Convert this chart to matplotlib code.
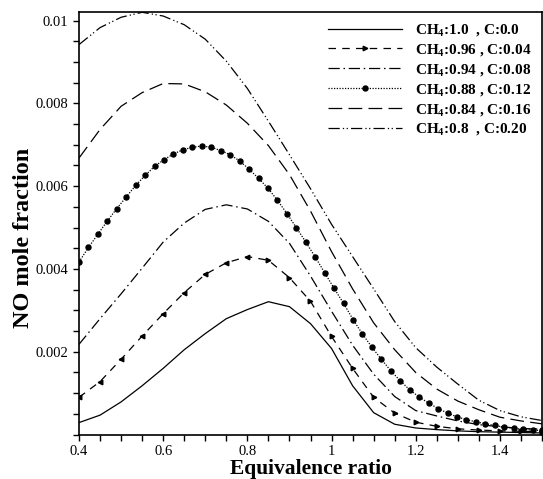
import numpy as np
import matplotlib
matplotlib.use("Agg")
import matplotlib.pyplot as plt
from matplotlib.ticker import MultipleLocator, FuncFormatter

plt.rcParams['font.family'] = ['Liberation Serif', 'DejaVu Serif']
plt.rcParams['mathtext.fontset'] = 'custom'
plt.rcParams['mathtext.rm'] = 'Liberation Serif:bold'
plt.rcParams['mathtext.bf'] = 'Liberation Serif:bold'
plt.rcParams['mathtext.default'] = 'rm'

# ---- data ----
phi = [0.40, 0.45, 0.50, 0.55, 0.60, 0.65, 0.70, 0.75, 0.80, 0.85, 0.90, 0.95,
       1.00, 1.05, 1.10, 1.15, 1.20, 1.25, 1.30, 1.35, 1.40, 1.45, 1.50]

no_ch4_100 = [0.00029, 0.00047, 0.00079, 0.00118, 0.00160, 0.00205, 0.00244, 0.00280,
              0.00302, 0.00321, 0.00309, 0.00268, 0.00208, 0.00118, 0.00053, 0.00025,
              0.00016, 0.00012, 0.00009, 0.00007, 0.00006, 0.00005, 0.00004]
no_ch4_096 = [0.00090, 0.00128, 0.00182, 0.00238, 0.00292, 0.00343, 0.00387, 0.00415,
              0.00430, 0.00421, 0.00379, 0.00322, 0.00237, 0.00160, 0.00090, 0.00052,
              0.00030, 0.00020, 0.00014, 0.00011, 0.00009, 0.00008, 0.00007]
no_ch4_094 = [0.00218, 0.00280, 0.00340, 0.00402, 0.00465, 0.00511, 0.00544, 0.00555,
              0.00545, 0.00515, 0.00462, 0.00383, 0.00298, 0.00216, 0.00146, 0.00092,
              0.00058, 0.00045, 0.00033, 0.00024, 0.00019, 0.00015, 0.00013]
no_ch4_084 = [0.00668, 0.00737, 0.00793, 0.00826, 0.00848, 0.00847, 0.00828, 0.00796,
              0.00752, 0.00698, 0.00628, 0.00540, 0.00442, 0.00352, 0.00270, 0.00205,
              0.00150, 0.00110, 0.00081, 0.00060, 0.00042, 0.00033, 0.00026]
no_ch4_080 = [0.00942, 0.00983, 0.01008, 0.01020, 0.01011, 0.00990, 0.00955, 0.00902,
              0.00836, 0.00757, 0.00676, 0.00594, 0.00508, 0.00430, 0.00352, 0.00273,
              0.00210, 0.00163, 0.00122, 0.00083, 0.00058, 0.00043, 0.00034]

phi_fine = np.linspace(0.4, 1.5, 50)
no_ch4_088 = [0.00417, 0.00452, 0.00484, 0.00516, 0.00546, 0.00574, 0.00602, 0.00626,
              0.00648, 0.00664, 0.00678, 0.00688, 0.00694, 0.00697, 0.00694, 0.00686,
              0.00676, 0.00661, 0.00641, 0.00619, 0.00595, 0.00566, 0.00534, 0.00500,
              0.00465, 0.00429, 0.00391, 0.00353, 0.00317, 0.00278, 0.00243, 0.00211,
              0.00182, 0.00154, 0.00130, 0.00108, 0.00091, 0.00076, 0.00063, 0.00052,
              0.00043, 0.00036, 0.00031, 0.00026, 0.00022, 0.00018, 0.00015, 0.00013,
              0.00011, 0.00010]

labels = ["CH$_4$:1.0  , C:0.0", "CH$_4$:0.96 , C:0.04", "CH$_4$:0.94 , C:0.08",
          "CH$_4$:0.88 , C:0.12", "CH$_4$:0.84 , C:0.16", "CH$_4$:0.8  , C:0.20"]

# ---- figure ----
fig = plt.figure(figsize=(5.43, 4.79), dpi=100)
ax = fig.add_axes([79/543, 44.4/479, 463/543, 422.3/479])

lw = 0.9
k = 'black'
phi_a = np.array(phi)
ya = np.array(no_ch4_096)

ax.plot(phi, no_ch4_100, color=k, lw=lw, ls='-', label=labels[0])
ax.plot(phi, no_ch4_096, color=k, lw=lw, dashes=(6, 5), marker='>', ms=3.3,
        markevery=list(np.where(phi_a > 0.8)[0]), label=labels[1])
ax.plot(phi_a[phi_a <= 0.8], ya[phi_a <= 0.8], ls='none', marker='<', ms=3.3, color=k)
ax.plot(phi, no_ch4_094, color=k, lw=lw, dashes=(9, 3, 1.2, 3), label=labels[2])
ax.plot(phi_fine, no_ch4_088, color=k, lw=lw, ls=(0, (1, 1.2)), marker='o', ms=3.6,
        label=labels[3])
ax.plot(phi, no_ch4_084, color=k, lw=lw, dashes=(11, 5), label=labels[4])
ax.plot(phi, no_ch4_080, color=k, lw=lw, dashes=(9, 2.5, 1, 2, 1, 2.5), label=labels[5])

ax.set_xlim(0.4, 1.5)
ax.set_ylim(0, 0.0102)
ax.xaxis.set_major_locator(MultipleLocator(0.2))
ax.xaxis.set_minor_locator(MultipleLocator(0.05))
ax.xaxis.set_major_formatter(FuncFormatter(lambda v, p: ('%g' % round(v, 3))))
ax.set_yticks([0.002, 0.004, 0.006, 0.008, 0.010])
ax.yaxis.set_minor_locator(MultipleLocator(0.0005))
ax.yaxis.set_major_formatter(FuncFormatter(lambda v, p: ('%g' % round(v, 4))))

ax.tick_params(which='both', direction='out', length=4, width=1, labelsize=10.5,
               colors='black')
for s in ax.spines.values():
    s.set_linewidth(1.2)

ax.set_xlabel('Equivalence ratio', fontsize=15.5, fontweight='bold', labelpad=1)
ax.set_ylabel('NO mole fraction', fontsize=17.5, fontweight='bold')
ax.yaxis.set_label_coords(-0.098, 0.465)

leg = ax.legend(loc='upper right', bbox_to_anchor=(0.978, 0.976), frameon=False,
                borderaxespad=0, borderpad=0, handlelength=4.9, handletextpad=0.85,
                labelspacing=0.25, numpoints=1,
                prop={'family': 'Liberation Serif', 'weight': 'bold', 'size': 11})

fig.savefig('out.png', dpi=100)
